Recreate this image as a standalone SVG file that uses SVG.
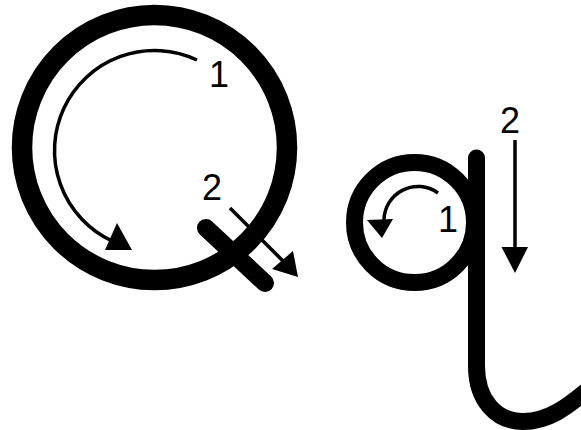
<svg xmlns="http://www.w3.org/2000/svg" width="581" height="430" viewBox="0 0 581 430">
<style>
.letter{fill:none;stroke:#000;stroke-linecap:round;stroke-linejoin:round}
.arr{fill:none;stroke:#000;stroke-width:3.5}
.head{fill:#000;stroke:none}
.num{font-family:"Liberation Sans",Arial,sans-serif;font-size:36px;fill:#000}
</style>
<rect width="581" height="430" fill="#fff"/>
<g id="Q">
<circle class="letter" cx="154.5" cy="147.5" r="132.5" stroke-width="20.5"/>
<line class="letter" x1="206" y1="228" x2="265" y2="283" stroke-width="18"/>
</g>
<g id="q">
<circle class="letter" cx="414.5" cy="222.5" r="60" stroke-width="17"/>
<path class="letter" d="M476.5,158 L476.5,366 C476.5,400 496,421.5 523,421.5 C548,421.5 566,408 590,388" stroke-width="17"/>
</g>
<g id="connectors">
<path class="arr" d="M197,60 A99,99 0 1 0 112,241"/>
<polygon class="head" points="105,250 132,250 117,223"/>
<line class="arr" x1="230" y1="208" x2="290" y2="268"/>
<polygon class="head" points="272,269 293,251 298,277"/>
<path class="arr" d="M438,193 A34,34 0 0 0 384,220"/>
<polygon class="head" points="367,220 393,219 382,238"/>
<line class="arr" x1="515" y1="140" x2="515" y2="255"/>
<polygon class="head" points="501.5,247 528,247 515,273"/>
</g>
<g id="labels">
<text class="num" x="209" y="87">1</text>
<text class="num" x="202" y="200">2</text>
<text class="num" x="438" y="232">1</text>
<text class="num" x="500" y="133">2</text>
</g>
</svg>
